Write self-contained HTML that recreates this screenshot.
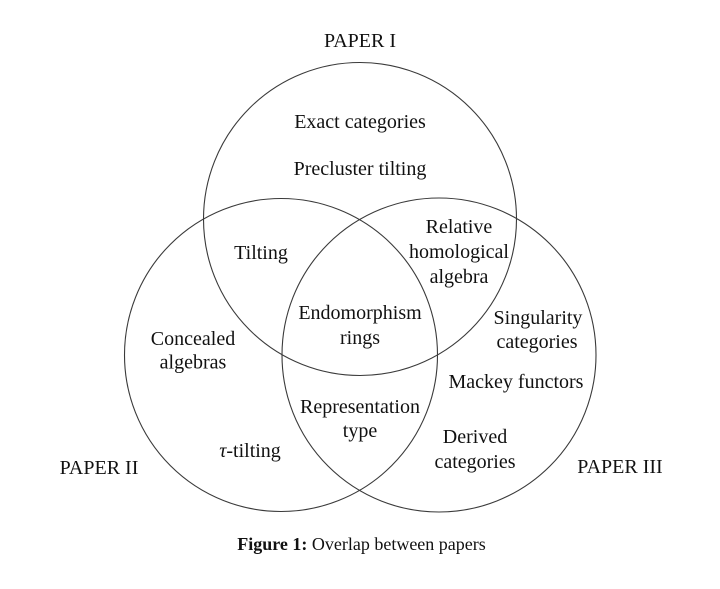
<!DOCTYPE html>
<html>
<head>
<meta charset="utf-8">
<style>
  html, body { margin: 0; padding: 0; background: #fff; }
  body { width: 720px; height: 589px; overflow: hidden; }
  svg { display: block; }
  text { font-family: "Liberation Serif", "DejaVu Serif", serif; fill: #111; }
</style>
</head>
<body>
<svg width="720" height="589" viewBox="0 0 720 589" xmlns="http://www.w3.org/2000/svg">
  <rect x="0" y="0" width="720" height="589" fill="#fff"/>
  <g fill="none" stroke="#3a3a3a" stroke-width="1.1">
    <circle cx="360" cy="219" r="156.5"/>
    <circle cx="281" cy="355" r="156.5"/>
    <circle cx="439" cy="355" r="157"/>
  </g>
  <g font-size="20" text-anchor="middle">
    <text x="360" y="47">PAPER I</text>
    <text x="360" y="128">Exact categories</text>
    <text x="360" y="175">Precluster tilting</text>
    <text x="261" y="259">Tilting</text>
    <text x="459" y="233">Relative</text>
    <text x="459" y="258">homological</text>
    <text x="459" y="283">algebra</text>
    <text x="360" y="319">Endomorphism</text>
    <text x="360" y="344">rings</text>
    <text x="193" y="345">Concealed</text>
    <text x="193" y="368.5">algebras</text>
    <text x="538" y="324">Singularity</text>
    <text x="537" y="348">categories</text>
    <text x="516" y="388">Mackey functors</text>
    <text x="360" y="413">Representation</text>
    <text x="360" y="437">type</text>
    <text x="475" y="443">Derived</text>
    <text x="475" y="468">categories</text>
    <text x="250" y="457"><tspan font-style="italic">τ</tspan>-tilting</text>
    <text x="99" y="474">PAPER II</text>
    <text x="620" y="473">PAPER III</text>
  </g>
  <text x="361.5" y="550" font-size="18" text-anchor="middle"><tspan font-weight="bold">Figure 1:</tspan> Overlap between papers</text>
</svg>
</body>
</html>
